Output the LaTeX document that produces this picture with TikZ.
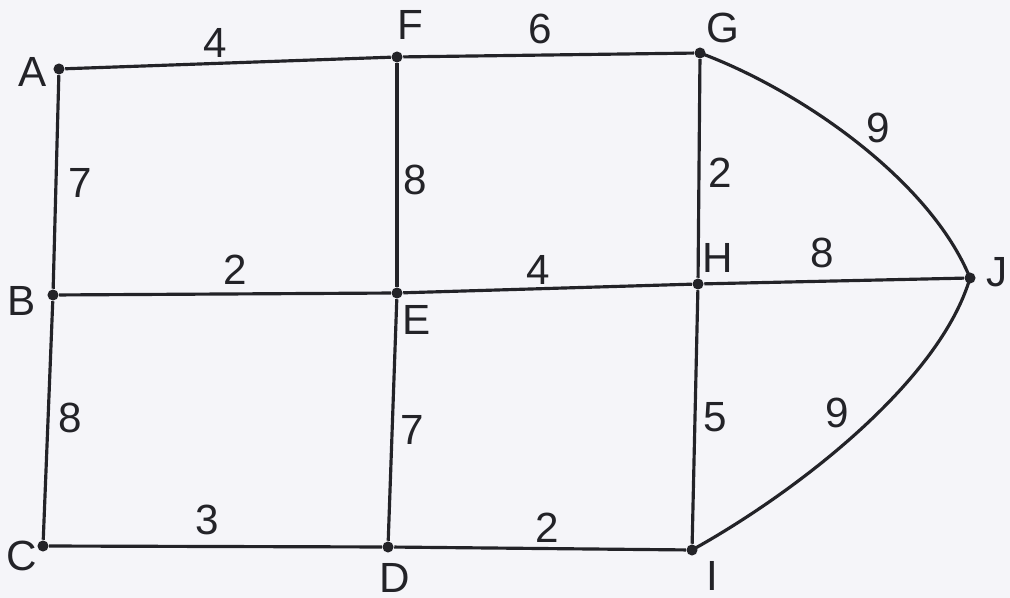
\documentclass[tikz,border=0pt]{standalone}
\usepackage{fontspec}
\setsansfont{Liberation Sans}
\definecolor{paper}{RGB}{245,245,249}
\definecolor{ink}{RGB}{35,35,40}
\tikzset{
  vtx/.style={circle, fill=ink, inner sep=0pt, minimum size=9pt*0.35},
  edge/.style={draw=ink, line width=0.9pt},
  lbl/.style={font=\sffamily\fontsize{12}{14}\selectfont, text=ink},
  wt/.style={font=\sffamily\fontsize{12}{14}\selectfont, text=ink}
}
\begin{document}
\begin{tikzpicture}[x=0.01cm, y=-0.01cm]
    % paper
    \fill[paper] (0,0) rectangle (1010,598);
    \useasboundingbox (0,0) rectangle (1010,598);

    % vertices
    \node[vtx] (A) at (59,69) {};
    \node[vtx] (F) at (397,57) {};
    \node[vtx] (G) at (700,53) {};
    \node[vtx] (B) at (53,295) {};
    \node[vtx] (E) at (397,293) {};
    \node[vtx] (H) at (698,284) {};
    \node[vtx] (J) at (970,278) {};
    \node[vtx] (C) at (43,546) {};
    \node[vtx] (D) at (388,547) {};
    \node[vtx] (I) at (692,550) {};

    % vertex names
    \node[lbl] (lA) at (33,72) {A};
    \node[lbl] (lF) at (410,25) {F};
    \node[lbl] (lG) at (723,28) {G};
    \node[lbl] (lB) at (22,301) {B};
    \node[lbl] (lE) at (417,320) {E};
    \node[lbl] (lH) at (718,258) {H};
    \node[lbl] (lJ) at (997,272) {J};
    \node[lbl] (lC) at (22,556) {C};
    \node[lbl] (lD) at (395,578) {D};
    \node[lbl] (lI) at (712,576) {I};

    % edges
    \draw[edge] (A) -- (F);
    \draw[edge] (F) -- (G);
    \draw[edge] (A) -- (B);
    \draw[edge] (F) -- (E);
    \draw[edge] (G) -- (H);
    \draw[edge] (B) -- (E);
    \draw[edge] (E) -- (H);
    \draw[edge] (H) -- (J);
    \draw[edge] (B) -- (C);
    \draw[edge] (E) -- (D);
    \draw[edge] (H) -- (I);
    \draw[edge] (C) -- (D);
    \draw[edge] (D) -- (I);
    \draw[edge] (G.center) .. controls (800,90) and (930,180) .. (J.center);
    \draw[edge] (I.center) .. controls (800,490) and (940,380) .. (J.center);

    % weights
    \node[wt] (wAF) at (215,43) {4};
    \node[wt] (wFG) at (540,29) {6};
    \node[wt] (wAB) at (80,183) {7};
    \node[wt] (wFE) at (415,180) {8};
    \node[wt] (wGH) at (720,173) {2};
    \node[wt] (wGJ) at (878,128) {9};
    \node[wt] (wBE) at (235,270) {2};
    \node[wt] (wEH) at (538,270) {4};
    \node[wt] (wHJ) at (822,253) {8};
    \node[wt] (wBC) at (70,418) {8};
    \node[wt] (wED) at (412,430) {7};
    \node[wt] (wHI) at (715,417) {5};
    \node[wt] (wIJ) at (837,413) {9};
    \node[wt] (wCD) at (207,520) {3};
    \node[wt] (wDI) at (547,528) {2};
\end{tikzpicture}
\end{document}
